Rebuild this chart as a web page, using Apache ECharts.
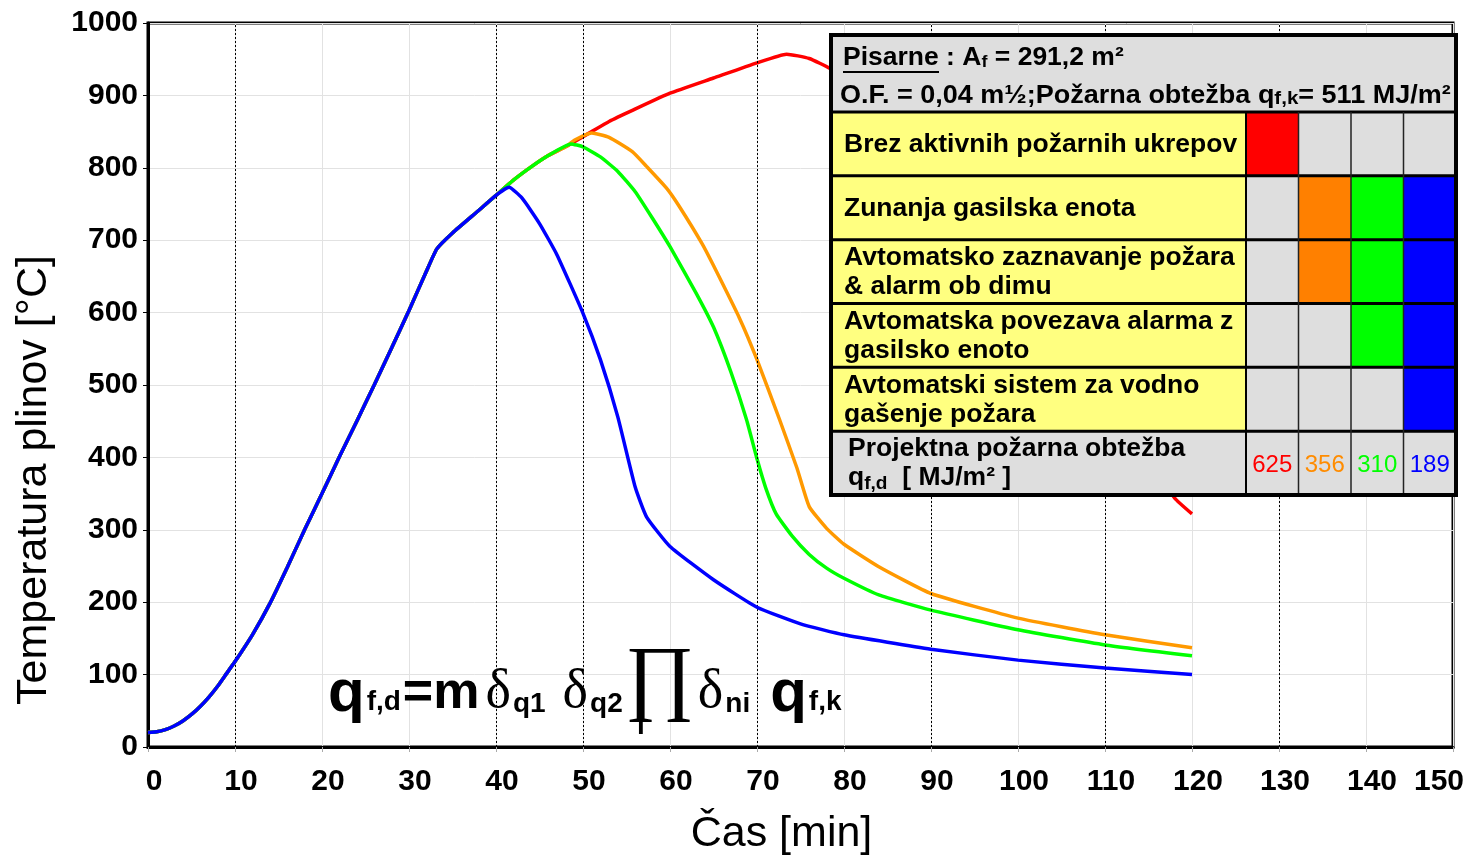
<!DOCTYPE html>
<html>
<head>
<meta charset="utf-8">
<title>Temperatura plinov</title>
<script src="https://cdn.jsdelivr.net/npm/echarts@6/dist/echarts.min.js"></script>
<style>
  html, body { margin: 0; padding: 0; background: #fff; }
  #chart { width: 1477px; height: 859px; }
</style>
</head>
<body>
<div id="chart"></div>
<script>
// common heating branch [min, °C]
const growth = [
  [0, 20], [1, 21], [2, 24], [3, 29], [4, 36], [5, 45], [6, 56], [7, 69], [8, 84], [9, 101],
  [10, 118], [12, 155], [14, 198], [16, 248], [18, 300], [20, 350], [22, 401], [24, 450],
  [26, 500], [28, 551], [30, 603], [32, 657], [33.2, 688], [35, 710], [38, 741], [40, 762]
];
// tails per scenario
const blueTail = [
  [41.5, 773], [43, 758], [45, 723], [47, 680], [50, 599], [52, 535], [54, 456], [56, 359],
  [57.3, 318], [60, 277], [65, 231], [70, 193], [75, 170], [80, 155], [90, 135], [100, 120],
  [110, 109], [120, 100]
];
const greenTail = [
  [42, 783], [44, 801], [46, 817], [48.6, 833], [50, 829], [52, 815], [54, 795], [56, 767],
  [58, 730], [60, 691], [63, 627], [65, 580], [67, 518], [68.8, 452], [70, 398], [71, 358],
  [72.2, 322], [74, 292], [76, 266], [78, 247], [80, 233], [84, 210], [90, 189], [100, 162],
  [110, 141], [120, 126]
];
const orangeTail = [
  [42, 783], [44, 801], [46, 817], [48, 829], [49, 838], [51, 848], [53, 842], [55.7, 822],
  [57.3, 802], [59.6, 772], [61, 748], [63.7, 695], [65, 665], [68, 592], [70, 535],
  [72.6, 452], [74.6, 385], [76, 332], [78, 302], [80, 280], [84, 249], [90, 212],
  [100, 178], [110, 155], [120, 137]
];
const redTail = [
  [42, 783], [44, 801], [46, 817], [48, 829], [50, 843], [51, 850], [53, 864], [55.8, 880],
  [60, 903], [65, 924], [70, 945], [73.4, 957], [76, 951], [78.4, 937], [82, 905], [86, 855],
  [90, 800], [95, 730], [100, 655], [105, 575], [110, 490], [115, 400], [118, 344], [120, 322]
];

const dottedMarks = [10, 40, 50, 70, 90, 110, 130];
const lineColors = ['#ff0000', '#ff9900', '#00ff00', '#0000ff'];
const cellColors = ['#ff0000', '#ff8000', '#00ff00', '#0000ff'];
const loadColors = ['#ff0000', '#ff8c00', '#00ff00', '#0000ff'];

// legend table content
const headerLine1 = '{u|Pisarne} : A{sub|f} = 291,2 m²';
const headerLine2 = 'O.F. = 0,04 m½;Požarna obtežba q{sub|f,k}= 511 MJ/m²';
const rowLabels = [
  'Brez aktivnih požarnih ukrepov',
  'Zunanja gasilska enota',
  'Avtomatsko zaznavanje požara\n& alarm ob dimu',
  'Avtomatska povezava alarma z\ngasilsko enoto',
  'Avtomatski sistem za vodno\ngašenje požara'
];
const rowCells = [
  [1, 0, 0, 0],
  [0, 1, 1, 1],
  [0, 1, 1, 1],
  [0, 0, 1, 1],
  [0, 0, 0, 1]
];
const designLoads = [625, 356, 310, 189];

const SANS = '"Liberation Sans", Arial, sans-serif';
const SERIF = '"Liberation Serif", "DejaVu Serif", serif';

const chart = echarts.init(document.getElementById('chart'));

// table layout
const tx0 = 831, tx1 = 1456, ty0 = 35, ty1 = 495;
const headerBottom = 112;
const rowH = (ty1 - headerBottom) / 6;
const labelRight = 1246;
const colW = (tx1 - labelRight) / 4;
const YELLOW = '#ffff80', GRAY = '#dedede';
const TZ = 100;

const tbl = [];
tbl.push({ type: 'rect', z: TZ, shape: { x: tx0, y: ty0, width: tx1 - tx0, height: ty1 - ty0 },
  style: { fill: GRAY } });
rowLabels.forEach((lab, i) => {
  const y = headerBottom + i * rowH;
  tbl.push({ type: 'rect', z: TZ, shape: { x: tx0, y: y, width: labelRight - tx0, height: rowH },
    style: { fill: YELLOW } });
  rowCells[i].forEach((on, j) => {
    tbl.push({ type: 'rect', z: TZ, shape: { x: labelRight + j * colW, y: y, width: colW, height: rowH },
      style: { fill: on ? cellColors[j] : GRAY } });
  });
  tbl.push({ type: 'text', z: TZ + 1, x: tx0 + 13, y: y + rowH / 2 + 1, scaleX: 1.06,
    style: { text: lab, font: 'bold 25px ' + SANS, fill: '#000', verticalAlign: 'middle',
      lineHeight: 29 } });
});
// design load row
const lastY = headerBottom + 5 * rowH;
tbl.push({ type: 'text', z: TZ + 1, x: tx0 + 17, y: lastY + rowH / 2 + 1, scaleX: 1.06,
  style: { text: 'Projektna požarna obtežba\n{sub|q}{sub2|f,d}  [ MJ/m² ]', font: 'bold 25px ' + SANS,
    fill: '#000', verticalAlign: 'middle', lineHeight: 29,
    rich: {
      sub: { font: 'bold 25px ' + SANS, lineHeight: 29 },
      sub2: { font: 'bold 18px ' + SANS, verticalAlign: 'bottom', lineHeight: 22 }
    } } });
designLoads.forEach((v, j) => {
  tbl.push({ type: 'text', z: TZ + 1, x: labelRight + (j + 0.5) * colW, y: lastY + rowH / 2 + 2,
    style: { text: String(v), font: '24px ' + SANS, fill: loadColors[j],
      align: 'center', verticalAlign: 'middle' } });
});
// header text
tbl.push({ type: 'text', z: TZ + 1, x: tx0 + 12, y: 58, scaleX: 1.06,
  style: { text: headerLine1, font: 'bold 25px ' + SANS, fill: '#000', verticalAlign: 'middle',
    rich: {
      u: { font: 'bold 25px ' + SANS },
      sub: { font: 'bold 17px ' + SANS, verticalAlign: 'bottom', lineHeight: 18 }
    } } });
tbl.push({ type: 'line', z: TZ + 1, shape: { x1: tx0 + 12, y1: 72, x2: tx0 + 108, y2: 72 },
  style: { stroke: '#000', lineWidth: 2 } });
tbl.push({ type: 'text', z: TZ + 1, x: tx0 + 9, y: 96, scaleX: 1.08,
  style: { text: headerLine2, font: 'bold 25px ' + SANS, fill: '#000', verticalAlign: 'middle',
    rich: {
      sub: { font: 'bold 19px ' + SANS, verticalAlign: 'bottom', lineHeight: 18 }
    } } });
// table rules
for (let i = 0; i <= 6; i++) {
  const y = headerBottom + i * rowH;
  tbl.push({ type: 'line', z: TZ + 2, shape: { x1: tx0, y1: y, x2: tx1, y2: y }, style: { stroke: '#000', lineWidth: 3 } });
}
tbl.push({ type: 'line', z: TZ + 2, shape: { x1: labelRight, y1: headerBottom, x2: labelRight, y2: ty1 },
  style: { stroke: '#000', lineWidth: 2 } });
for (let j = 1; j < 4; j++) {
  const x = labelRight + j * colW;
  tbl.push({ type: 'line', z: TZ + 2, shape: { x1: x, y1: headerBottom, x2: x, y2: ty1 },
    style: { stroke: '#222', lineWidth: 1.5 } });
}
tbl.push({ type: 'rect', z: TZ + 3, shape: { x: tx0, y: ty0, width: tx1 - tx0, height: ty1 - ty0 },
  style: { fill: null, stroke: '#000', lineWidth: 4 } });

// equation
const eq = {
  type: 'text', x: 328, y: 682, z: 50,
  style: {
    text: '{q|q}{s|f,d}{m|=m}{d1|δ}{ds|q1}{d2|δ}{ds|q2}{p|∏}{d3|δ}{ds|ni}{q2|q}{s|f,k}',
    verticalAlign: 'middle',
    rich: {
      q: { font: 'bold 60px ' + SANS, verticalAlign: 'bottom', lineHeight: 60, padding: [0, 0, 0, 0] },
      q2: { font: 'bold 60px ' + SANS, verticalAlign: 'bottom', lineHeight: 60, padding: [0, 0, 0, 20] },
      m: { font: 'bold 52px ' + SANS, verticalAlign: 'bottom', lineHeight: 52, padding: [0, 0, 4, 2] },
      s: { font: 'bold 28px ' + SANS, verticalAlign: 'bottom', lineHeight: 28, padding: [0, 0, 8, 2] },
      d1: { font: '54px ' + SERIF, verticalAlign: 'bottom', lineHeight: 54, padding: [0, 0, 4, 6] },
      d2: { font: '54px ' + SERIF, verticalAlign: 'bottom', lineHeight: 54, padding: [0, 0, 4, 17] },
      d3: { font: '54px ' + SERIF, verticalAlign: 'bottom', lineHeight: 54, padding: [0, 0, 4, 4] },
      ds: { font: 'bold 28px ' + SANS, verticalAlign: 'bottom', lineHeight: 28, padding: [0, 0, 6, 2] },
      p: { font: '84px ' + SERIF, verticalAlign: 'bottom', lineHeight: 84, padding: [0, 0, 0, 2] }
    }
  }
};
const eqSub = { type: 'text', x: 641, y: 726, z: 50,
  style: { text: 'i', font: 'bold 28px ' + SANS, verticalAlign: 'middle', align: 'center' } };

const option = {
  animation: false,
  backgroundColor: '#fff',
  grid: {
    left: 148, right: 24, top: 23, bottom: 112, outerBoundsMode: 'none',
    show: true, borderColor: '#000', borderWidth: 3
  },
  xAxis: {
    type: 'value', min: 0, max: 150, interval: 10,
    name: 'Čas [min]', nameLocation: 'middle', nameGap: 66,
    nameTextStyle: { fontFamily: SANS, fontSize: 43, color: '#000', padding: [0, 38, 0, 0] },
    axisLine: { lineStyle: { color: '#000', width: 3 } },
    axisTick: { show: true, length: 5, lineStyle: { color: '#aaa' } },
    axisLabel: {
      fontFamily: SANS, fontSize: 30, fontWeight: 'bold', color: '#000', margin: 20,
      padding: [0, 0, 0, 12],
      formatter: v => (v === 150 ? '{r|150}' : String(v)),
      rich: { r: { fontFamily: SANS, fontSize: 30, fontWeight: 'bold', color: '#000', padding: [0, 40, 0, 0] } }
    },
    splitLine: { show: true, lineStyle: { color: '#e2e2e2', width: 1 } }
  },
  yAxis: {
    type: 'value', min: 0, max: 1000, interval: 100,
    name: 'Temperatura plinov [°C]', nameLocation: 'middle', nameGap: 92,
    nameTextStyle: { fontFamily: SANS, fontSize: 43, color: '#000', padding: [0, 190, 0, 0] },
    axisLine: { show: true, lineStyle: { color: '#000', width: 3 } },
    axisTick: { show: true, length: 5, lineStyle: { color: '#000' } },
    axisLabel: { fontFamily: SANS, fontSize: 30, fontWeight: 'bold', color: '#000', margin: 10,
      formatter: v => String(v) },
    splitLine: { show: true, lineStyle: { color: '#e2e2e2', width: 1 } }
  },
  series: [
    {
      name: 'Brez', type: 'line', data: growth.concat(redTail), showSymbol: false, smooth: 0.15,
      lineStyle: { color: lineColors[0], width: 3.5 }, z: 2,
      markLine: {
        silent: true, symbol: 'none', label: { show: false },
        lineStyle: { type: [2, 2], color: '#000', width: 1 },
        data: dottedMarks.map(v => ({ xAxis: v }))
      }
    },
    { name: '356', type: 'line', data: growth.concat(orangeTail), showSymbol: false, smooth: 0.15,
      lineStyle: { color: lineColors[1], width: 3.5 }, z: 3 },
    { name: '310', type: 'line', data: growth.concat(greenTail), showSymbol: false, smooth: 0.15,
      lineStyle: { color: lineColors[2], width: 3.5 }, z: 4 },
    { name: '189', type: 'line', data: growth.concat(blueTail), showSymbol: false, smooth: 0.15,
      lineStyle: { color: lineColors[3], width: 3.5 }, z: 5 }
  ],
  graphic: tbl.concat([eq, eqSub])
};
chart.setOption(option);
</script>
</body>
</html>
